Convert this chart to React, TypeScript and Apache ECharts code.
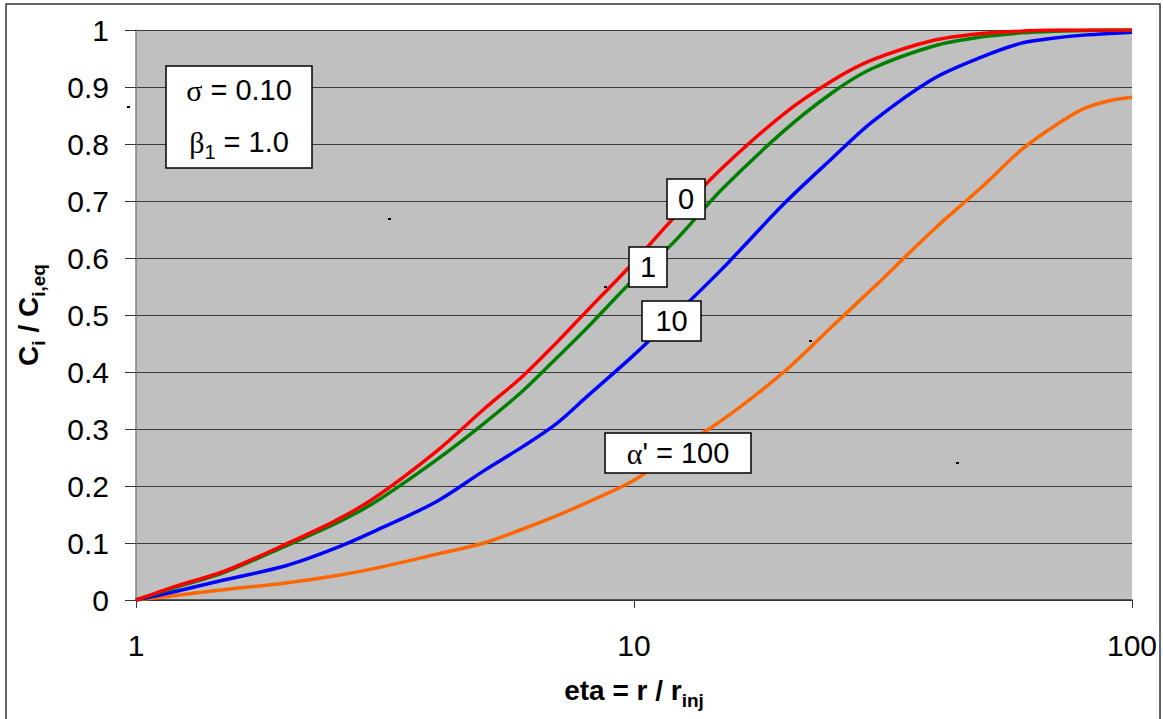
import { useEffect, useRef } from "react";
import * as echarts from "echarts";

const etaValues = [1, 1.2, 1.5, 2, 2.5, 3, 4, 5, 6, 7, 8, 10, 12, 15, 20, 25, 30, 40, 50, 60, 70, 80, 90, 100];
const alpha0 = [0, 0.024, 0.05, 0.098, 0.138, 0.178, 0.26, 0.335, 0.394, 0.452, 0.505, 0.593, 0.67, 0.757, 0.853, 0.911, 0.947, 0.982, 0.994, 0.998, 1, 1, 1, 1];
const alpha1 = [0, 0.022, 0.048, 0.095, 0.133, 0.17, 0.245, 0.31, 0.368, 0.425, 0.475, 0.563, 0.627, 0.72, 0.823, 0.89, 0.932, 0.972, 0.988, 0.995, 0.998, 0.999, 1, 1];
const alpha10 = [0, 0.015, 0.035, 0.06, 0.09, 0.12, 0.172, 0.227, 0.27, 0.31, 0.355, 0.43, 0.497, 0.58, 0.695, 0.775, 0.838, 0.915, 0.953, 0.977, 0.986, 0.991, 0.994, 0.996];
const alpha100 = [0, 0.008, 0.018, 0.03, 0.042, 0.055, 0.08, 0.1, 0.125, 0.148, 0.17, 0.21, 0.26, 0.315, 0.4, 0.48, 0.545, 0.65, 0.725, 0.79, 0.832, 0.862, 0.876, 0.882];

const seriesNames = ["α' = 100", "10", "1", "0"];
const seriesColors = ["#FF6600", "#0000FF", "#008000", "#FF0000"];
const seriesValues = [alpha100, alpha10, alpha1, alpha0];

const SANS = "Liberation Sans";
const SERIF = "Liberation Serif";

export default function App() {
  const ref = useRef<HTMLDivElement>(null);
  useEffect(() => {
    const chart = echarts.init(ref.current!, null, { renderer: "svg" });
    const series = seriesValues.map((vals, k) => ({
      name: seriesNames[k],
      type: "line",
      data: etaValues.map((x, i) => [x, vals[i]]),
      showSymbol: false,
      symbol: "none",
      smooth: 0.3,
      lineStyle: { color: seriesColors[k], width: 3.5 },
      itemStyle: { color: seriesColors[k] },
      z: 3 + k,
    }));

    const boxText = (cx: number, cy: number, w: number, h: number, text: string, rich?: any) => [
      {
        type: "rect",
        shape: { x: cx - w / 2, y: cy - h / 2, width: w, height: h },
        style: { fill: "#fff", stroke: "#000", lineWidth: 1.5 },
        z: 100,
        silent: true,
      },
      {
        type: "text",
        x: cx,
        y: cy,
        style: {
          text,
          align: "center",
          verticalAlign: "middle",
          fontFamily: SANS,
          fontSize: 29,
          fill: "#000",
          rich,
        },
        z: 101,
        silent: true,
      },
    ];

    const greekRich = {
      g: { fontFamily: SERIF, fontSize: 30, fill: "#000", lineHeight: 40, verticalAlign: "middle" },
      t: { fontFamily: SANS, fontSize: 29, fill: "#000", lineHeight: 40, verticalAlign: "middle" },
      s: { fontFamily: SANS, fontSize: 20, fill: "#000", lineHeight: 20, verticalAlign: "bottom" },
    };

    const dots = [
      [128, 107],
      [389, 219],
      [605, 287],
      [810, 341],
      [957, 463],
    ].map(([x, y]) => ({
      type: "rect",
      shape: { x: x - 1, y: y - 1, width: 3, height: 2 },
      style: { fill: "#000" },
      z: 90,
      silent: true,
    }));

    chart.setOption({
      animation: false,
      backgroundColor: "#fff",
      grid: {
        left: 136,
        top: 30,
        right: 31,
        bottom: 119,
        show: true,
        backgroundColor: "#C0C0C0",
        borderWidth: 0,
      },
      xAxis: {
        type: "log",
        logBase: 10,
        min: 1,
        max: 100,
        name: "{b|eta = r / r}{s|inj}",
        nameLocation: "middle",
        nameGap: 70,
        nameTextStyle: {
          rich: {
            b: { fontFamily: SANS, fontSize: 28, fontWeight: "bold", color: "#000", lineHeight: 40, verticalAlign: "middle" },
            s: { fontFamily: SANS, fontSize: 19, fontWeight: "bold", color: "#000", lineHeight: 19, verticalAlign: "bottom" },
          },
        },
        axisLine: { show: true, onZero: false, lineStyle: { color: "#333", width: 1.5 } },
        axisTick: { show: true, length: 8, inside: false, lineStyle: { color: "#333" } },
        minorTick: { show: false },
        splitLine: { show: false },
        axisLabel: {
          fontFamily: SANS,
          fontSize: 30,
          color: "#000",
          margin: 30,
          formatter: (v: number) => String(Math.round(v)),
        },
      },
      yAxis: {
        type: "value",
        min: 0,
        max: 1,
        interval: 0.1,
        name: "{b|C}{s|i}{b| / C}{s|i,eq}",
        nameLocation: "middle",
        nameRotate: 90,
        nameGap: 88,
        nameTextStyle: {
          rich: {
            b: { fontFamily: SANS, fontSize: 28, fontWeight: "bold", color: "#000", lineHeight: 40, verticalAlign: "middle" },
            s: { fontFamily: SANS, fontSize: 19, fontWeight: "bold", color: "#000", lineHeight: 19, verticalAlign: "bottom" },
          },
        },
        axisLine: { show: true, lineStyle: { color: "#808080", width: 1.5 } },
        axisTick: { show: true, length: 11, inside: false, lineStyle: { color: "#333" } },
        splitLine: { show: true, lineStyle: { color: "#3a3a3a", width: 1 } },
        axisLabel: {
          fontFamily: SANS,
          fontSize: 30,
          color: "#000",
          margin: 27,
          padding: [5, 0, 0, 0],
          formatter: (v: number) => (v === 0 ? "0" : v === 1 ? "1" : v.toFixed(1)),
        },
      },
      series,
      graphic: [
        {
          type: "rect",
          shape: { x: 6, y: 4, width: 1154, height: 740 },
          style: { fill: "none", stroke: "#333", lineWidth: 1.5 },
          z: 100,
          silent: true,
        },
        ...dots,
        {
          type: "rect",
          shape: { x: 166, y: 66, width: 146, height: 102 },
          style: { fill: "#fff", stroke: "#000", lineWidth: 1.5 },
          z: 100,
          silent: true,
        },
        {
          type: "text",
          x: 239,
          y: 90,
          style: {
            text: "{g|σ}{t| = 0.10}",
            align: "center",
            verticalAlign: "middle",
            rich: greekRich,
          },
          z: 101,
          silent: true,
        },
        {
          type: "text",
          x: 239,
          y: 142,
          style: {
            text: "{g|β}{s|1}{t| = 1.0}",
            align: "center",
            verticalAlign: "middle",
            rich: greekRich,
          },
          z: 101,
          silent: true,
        },
        ...boxText(686, 199, 38, 40, "0"),
        ...boxText(648, 267, 38, 40, "1"),
        ...boxText(671.5, 321, 59, 40, "10"),
        ...boxText(678, 453, 146, 40, "{g|α}{t|' = 100}", greekRich),
      ],
    });
    return () => chart.dispose();
  }, []);
  return (
    <div
      ref={ref}
      style={{ position: "absolute", left: 0, top: 0, width: 1163, height: 719, background: "#fff" }}
    />
  );
}
